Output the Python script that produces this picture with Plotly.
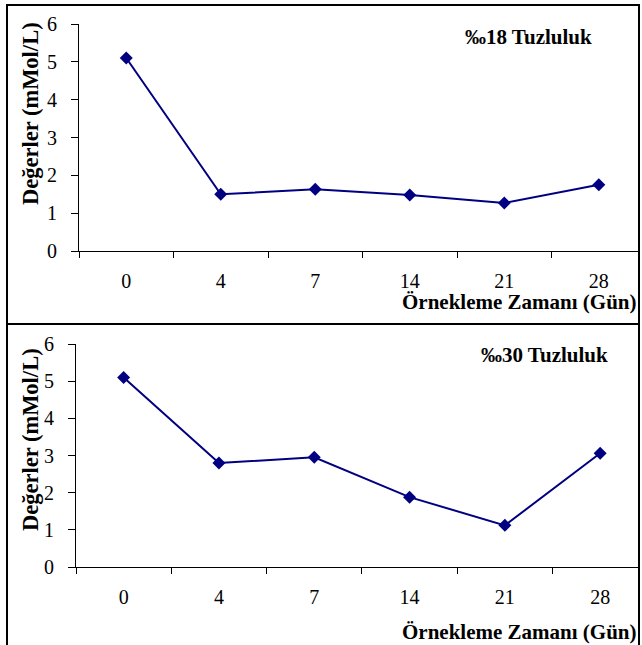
import plotly.graph_objects as go

# Sampling days and measured values (mMol/L) for two salinity levels
days = ["0", "4", "7", "14", "21", "28"]
values_18 = [5.1, 1.5, 1.63, 1.48, 1.27, 1.75]
values_30 = [5.1, 2.8, 2.95, 1.88, 1.12, 3.06]
panel_titles = ["‰18 Tuzluluk", "‰30 Tuzluluk"]
y_title = "Değerler (mMol/L)"
x_title = "Örnekleme Zamanı (Gün)"

W, H = 642, 645
NAVY = "#000080"
SERIF = "Liberation Serif"


def px(x):
    return x / W


def py(y):
    return 1 - y / H


fig = go.Figure()

fig.add_trace(go.Scatter(x=days, y=values_18, mode="lines+markers",
                         line=dict(color=NAVY, width=2),
                         marker=dict(symbol="diamond", size=10, color=NAVY),
                         xaxis="x", yaxis="y", showlegend=False))
fig.add_trace(go.Scatter(x=days, y=values_30, mode="lines+markers",
                         line=dict(color=NAVY, width=2),
                         marker=dict(symbol="diamond", size=10, color=NAVY),
                         xaxis="x2", yaxis="y2", showlegend=False))

tick_font = dict(family=SERIF, size=20, color="black")

xcommon = dict(type="category", tickson="boundaries", ticks="outside", ticklen=6,
               tickcolor="black", tickwidth=1, showline=True, linecolor="black",
               linewidth=1, showgrid=False, zeroline=False, tickfont=tick_font,
               ticklabelstandoff=12, automargin=False, fixedrange=True)
ycommon = dict(range=[0, 6], dtick=1, ticks="outside", ticklen=7, tickcolor="black",
               tickwidth=1, showline=True, linecolor="black", linewidth=1,
               showgrid=False, zeroline=False, tickfont=tick_font,
               ticklabelstandoff=10, automargin=False, fixedrange=True)

fig.update_layout(
    width=W, height=H, autosize=False,
    margin=dict(l=0, r=0, t=0, b=0, pad=0, autoexpand=False),
    paper_bgcolor="white", plot_bgcolor="white",
    xaxis=dict(xcommon, domain=[px(79), px(640)], range=[-0.5, 5.436], anchor="y"),
    yaxis=dict(ycommon, domain=[py(251), py(24)], anchor="x"),
    xaxis2=dict(xcommon, domain=[px(76), px(640)], range=[-0.5, 5.418], anchor="y2"),
    yaxis2=dict(ycommon, domain=[py(567), py(344)], anchor="x2"),
)

title_font = dict(family=SERIF, size=21, color="black", weight="bold")
ytitle_font = dict(family=SERIF, size=22.5, color="black", weight="bold")

annotations = []
for label, cx, cy in [(panel_titles[0], 528, 37), (panel_titles[1], 544, 355)]:
    annotations.append(dict(text=label, x=px(cx), y=py(cy), xref="paper", yref="paper",
                            xanchor="center", yanchor="middle", showarrow=False,
                            font=title_font))
for cy in (114, 440):
    annotations.append(dict(text=y_title, x=px(30), y=py(cy), xref="paper", yref="paper",
                            xanchor="center", yanchor="middle", textangle=-90,
                            showarrow=False, font=ytitle_font))
for cy in (302, 632):
    annotations.append(dict(text=x_title, x=px(639), y=py(cy), xref="paper", yref="paper",
                            xanchor="right", yanchor="middle", showarrow=False,
                            font=title_font))
fig.update_layout(annotations=annotations)

# Frame around both panels with a divider between them
frame = dict(color="black", width=2)
fig.update_layout(shapes=[
    dict(type="rect", xref="paper", yref="paper", x0=px(7), x1=px(639),
         y0=py(646), y1=py(5), line=frame),
    dict(type="line", xref="paper", yref="paper", x0=px(7), x1=px(639),
         y0=py(324), y1=py(324), line=frame),
])

fig.write_html("out.html")
